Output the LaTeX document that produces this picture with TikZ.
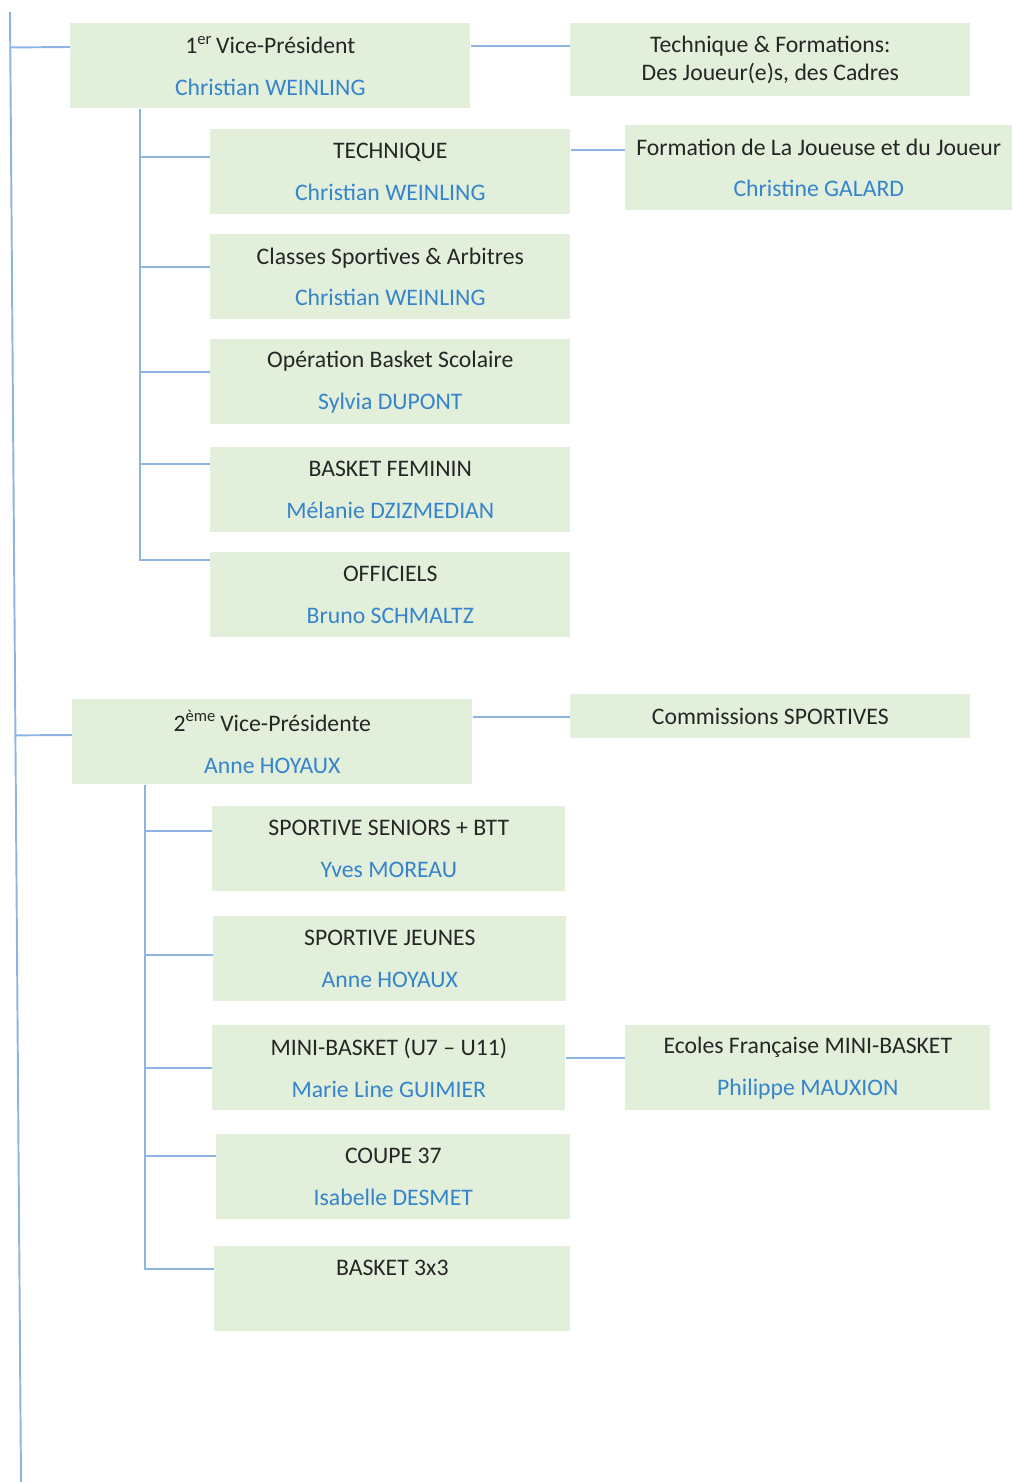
\documentclass[tikz,border=0pt]{standalone}
\usepackage{fontspec}
\setmainfont{Carlito}
\usetikzlibrary{calc}
\definecolor{vertclair}{HTML}{E2EFDA}
\definecolor{bleulien}{HTML}{8EB4E3}
\definecolor{bleunom}{HTML}{3584CC}
\definecolor{grisfonce}{HTML}{262626}
\newcommand{\nom}[1]{\textcolor{bleunom}{#1}}

\begin{document}
\begin{tikzpicture}[x=0.02cm, y=-0.02cm,
  poste/.style={fill=vertclair, anchor=north west, align=center, inner sep=0pt,
    minimum height=1.7cm, text=grisfonce, font=\fontsize{13.5}{23.9}\selectfont},
  lien/.style={draw=bleulien, line width=1.1pt}]
  \useasboundingbox (0,0) rectangle (1012,1482);

  \node[poste, minimum width=8cm] (vp1) at (70,23) {1\textsuperscript{er}\,Vice-Président\\\nom{Christian WEINLING}};
  \node[poste, minimum width=8cm, minimum height=1.46cm, font=\fontsize{13.5}{15.9}\selectfont] (tf) at (570,23) {Technique \& Formations:\\Des Joueur(e)s, des Cadres};
  \node[poste, minimum width=7.2cm] (tech) at (210,129) {TECHNIQUE\\\nom{Christian WEINLING}};
  \node[poste, minimum width=7.74cm] (form) at (625,125) {Formation de La Joueuse et du Joueur\\\nom{Christine GALARD}};
  \node[poste, minimum width=7.2cm] (classes) at (210,234) {Classes Sportives \& Arbitres\\\nom{Christian WEINLING}};
  \node[poste, minimum width=7.2cm] (obs) at (210,339) {Opération Basket Scolaire\\\nom{Sylvia DUPONT}};
  \node[poste, minimum width=7.2cm] (fem) at (210,447) {BASKET FEMININ\\\nom{Mélanie DZIZMEDIAN}};
  \node[poste, minimum width=7.2cm] (off) at (210,552) {OFFICIELS\\\nom{Bruno SCHMALTZ}};

  \node[poste, minimum width=8cm] (vp2) at (72,699) {2\textsuperscript{ème}\,Vice-Présidente\\\nom{Anne HOYAUX}};
  \node[poste, minimum width=8cm, minimum height=0.88cm] (cs) at (570,694) {Commissions SPORTIVES};
  \node[poste, minimum width=7.06cm] (seniors) at (212,806) {SPORTIVE SENIORS + BTT\\\nom{Yves MOREAU}};
  \node[poste, minimum width=7.06cm] (jeunes) at (213,916) {SPORTIVE JEUNES\\\nom{Anne HOYAUX}};
  \node[poste, minimum width=7.06cm] (mini) at (212,1025) {MINI-BASKET (U7 – U11)\\\nom{Marie Line GUIMIER}};
  \node[poste, minimum width=7.3cm] (ecoles) at (625,1025) {Ecoles Française MINI-BASKET\\\nom{Philippe MAUXION}};
  \node[poste, minimum width=7.08cm] (coupe) at (216,1134) {COUPE 37\\\nom{Isabelle DESMET}};
  \node[poste, minimum width=7.12cm] (trois) at (214,1246) {BASKET 3x3\\~};

  \coordinate (haut) at (10,12);
  \coordinate (bas) at (21,1482);
  \coordinate (e1) at ($(vp1.north west)+(0,24)$);
  \coordinate (e2) at ($(vp2.north west)+(0,36)$);
  \draw[lien] (haut) -- (bas);
  \draw[lien] ($(haut)!(e1)!(bas)$) -- (e1);
  \draw[lien] ($(haut)!(e2)!(bas)$) -- (e2);

  \coordinate (t1) at ($(vp1.south west)+(70,0)$);
  \foreach \n/\d in {tech/28, classes/33, obs/33, fem/17, off/8}
    \draw[lien] (t1) |- ($(\n.north west)+(0,\d)$);
  \coordinate (t2) at ($(vp2.south west)+(73,0)$);
  \foreach \n/\d in {seniors/25, jeunes/39, mini/43, coupe/22, trois/23}
    \draw[lien] (t2) |- ($(\n.north west)+(0,\d)$);

  \draw[lien] ($(vp1.north east)+(0,23)$) -- ($(tf.north west)+(0,23)$);
  \draw[lien] ($(tech.north east)+(0,21)$) -- ($(form.north west)+(0,25)$);
  \draw[lien] ($(vp2.north east)+(0,18)$) -- ($(cs.north west)+(0,23)$);
  \draw[lien] ($(mini.north east)+(0,33)$) -- ($(ecoles.north west)+(0,33)$);
\end{tikzpicture}
\end{document}
